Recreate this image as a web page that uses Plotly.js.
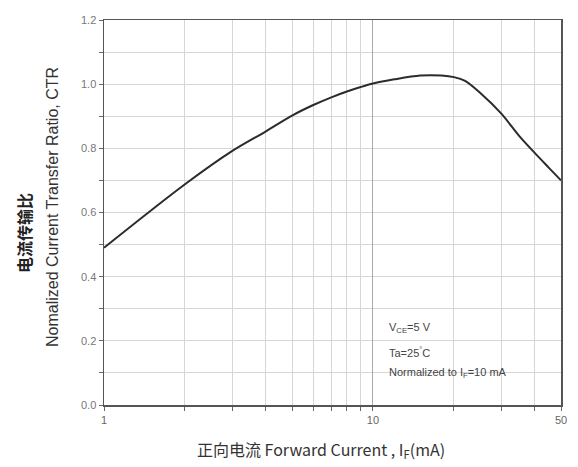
<!DOCTYPE html>
<html>
<head>
<meta charset="utf-8">
<script src="https://cdn.plot.ly/plotly-3.0.1.min.js"></script>
<style>html,body{margin:0;padding:0;background:#fff;}#chart{width:578px;height:467px;}</style>
</head>
<body>
<div id="chart"></div>
<script>
// Data
var forwardCurrent = [1, 2, 3, 4, 5, 6, 7, 8, 9, 10, 12, 15, 18, 20, 22, 25, 30, 35, 40, 45, 50];
var normalizedCTR  = [0.49, 0.688, 0.792, 0.853, 0.902, 0.935, 0.959, 0.977, 0.991, 1.002, 1.015, 1.027, 1.027, 1.022, 1.010, 0.973, 0.908, 0.838, 0.785, 0.740, 0.70];

var xTickVals = [1, 2, 3, 4, 5, 6, 7, 8, 9, 10, 20, 30, 40, 50];
var xTickText = ['1', '', '', '', '', '', '', '', '', '10', '', '', '', '50'];
var xMajorGrid = [10];
var yTickVals = [0, 0.1, 0.2, 0.3, 0.4, 0.5, 0.6, 0.7, 0.8, 0.9, 1.0, 1.1, 1.2];
var yTickText = ['0.0', '', '0.2', '', '0.4', '', '0.6', '', '0.8', '', '1.0', '', '1.2'];

var noteLines = ['V<sub>CE</sub>=5 V', 'Ta=25<sup>°</sup>C', 'Normalized to I<sub>F</sub>=10 mA'];
var yTitleCn = '电流传输比';
var yTitleEn = 'Nomalized Current Transfer Ratio, CTR';
var xTitle = '正向电流 Forward Current , I<sub>F</sub>(mA)';

var W = 578, H = 467;
var m = {l: 104, r: 17, t: 20, b: 62};
var pw = W - m.l - m.r, ph = H - m.t - m.b;
function px(x) { return (x - m.l) / pw; }
function py(y) { return (H - m.b - y) / ph; }

var font = '"Liberation Sans", Arial, "Noto Sans CJK SC", sans-serif';
var cjk = '"Noto Sans CJK SC", "Liberation Sans", sans-serif';
var xRange = [0, Math.log10(50)];

var trace = {
  x: forwardCurrent, y: normalizedCTR, type: 'scatter', mode: 'lines',
  line: {color: '#2b2b2b', width: 2, shape: 'spline', smoothing: 0.9},
  hoverinfo: 'skip'
};
var gridTrace = {
  x: [], y: [], xaxis: 'x2', yaxis: 'y', type: 'scatter', mode: 'lines', hoverinfo: 'skip'
};

var annotations = [
  {text: yTitleCn, xref: 'paper', yref: 'paper', x: px(24), y: py(233), textangle: -90,
   showarrow: false, xanchor: 'center', yanchor: 'middle',
   font: {family: cjk, size: 16, color: '#222', weight: 'bold'}},
  {text: yTitleEn, xref: 'paper', yref: 'paper', x: px(52), y: py(207), textangle: -90,
   showarrow: false, xanchor: 'center', yanchor: 'middle',
   font: {family: font, size: 16, color: '#333'}},
  {text: xTitle, xref: 'paper', yref: 'paper', x: px(321), y: py(449),
   showarrow: false, xanchor: 'center', yanchor: 'middle',
   font: {family: cjk, size: 16, color: '#333'}},
  {text: noteLines[0], xref: 'paper', yref: 'paper', x: px(387), y: py(328),
   showarrow: false, xanchor: 'left', yanchor: 'middle', font: {family: font, size: 11, color: '#444'}},
  {text: noteLines[1], xref: 'paper', yref: 'paper', x: px(387), y: py(352),
   showarrow: false, xanchor: 'left', yanchor: 'middle', font: {family: font, size: 11, color: '#444'}},
  {text: noteLines[2], xref: 'paper', yref: 'paper', x: px(387), y: py(373),
   showarrow: false, xanchor: 'left', yanchor: 'middle', font: {family: font, size: 11, color: '#444'}}
];

var shapes = [
  {type: 'rect', xref: 'paper', yref: 'paper', x0: px(378), x1: px(560), y0: py(398), y1: py(309),
   fillcolor: '#ffffff', line: {width: 0}, layer: 'between'}
];

var layout = {
  width: W, height: H, margin: m,
  paper_bgcolor: '#fff', plot_bgcolor: '#fff',
  showlegend: false,
  font: {family: font, color: '#666', size: 11},
  xaxis: {
    type: 'log', range: xRange,
    tickmode: 'array', tickvals: xTickVals, ticktext: xTickText,
    ticks: 'outside', ticklen: 4, tickcolor: '#666',
    showgrid: true, gridcolor: '#d6d6d6', gridwidth: 1,
    showline: true, linecolor: '#555', linewidth: 1.5, mirror: true,
    zeroline: false, tickfont: {size: 11, color: '#666'}
  },
  xaxis2: {
    type: 'log', range: xRange, overlaying: 'x', side: 'bottom',
    tickmode: 'array', tickvals: xMajorGrid, ticktext: [''],
    ticks: '', showticklabels: false,
    showgrid: true, gridcolor: '#a8a8a8', gridwidth: 1,
    showline: false, zeroline: false
  },
  yaxis: {
    range: [0, 1.2],
    tickmode: 'array', tickvals: yTickVals, ticktext: yTickText,
    ticks: 'outside', ticklen: 4, tickcolor: '#666',
    showgrid: true, gridcolor: '#d6d6d6', gridwidth: 1,
    showline: true, linecolor: '#555', linewidth: 1.5, mirror: true,
    zeroline: false, tickfont: {size: 11, color: '#777'}
  },
  annotations: annotations,
  shapes: shapes
};

Plotly.newPlot('chart', [gridTrace, trace], layout, {displayModeBar: false, staticPlot: true});
</script>
</body>
</html>
